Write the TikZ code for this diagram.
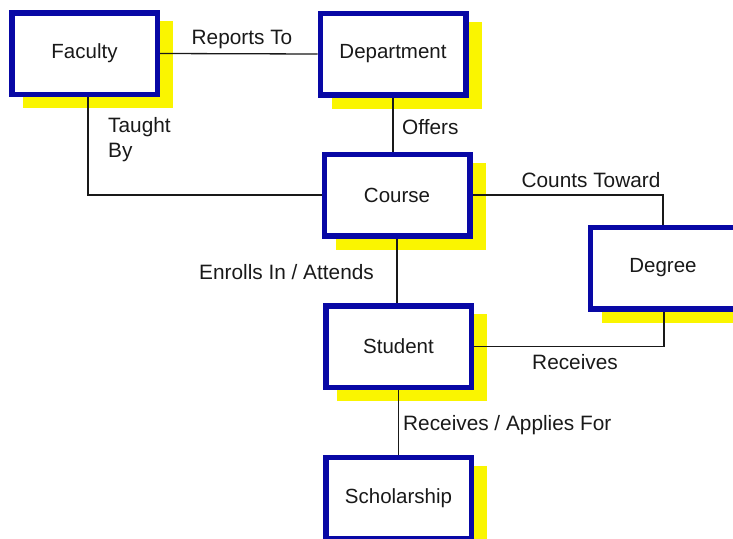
\documentclass[tikz,border=0pt]{standalone}
\usepackage{fontspec}
\setmainfont{Liberation Sans}
\usetikzlibrary{backgrounds}
\definecolor{boxblue}{RGB}{8,8,165}
\definecolor{shadowyellow}{RGB}{250,245,0}
\definecolor{inkgray}{RGB}{25,25,25}
\tikzset{
  entity/.style={draw=boxblue, line width=5.5pt, fill=white, rectangle,
    minimum width=145.5pt, minimum height=81.5pt, inner sep=0pt,
    font=\fontsize{20.5}{24}\selectfont, text=inkgray},
  link/.style={draw=inkgray, line width=1.3pt},
  lbl/.style={font=\fontsize{20.8}{24}\selectfont, text=inkgray, inner sep=0pt},
  shade/.style={fill=shadowyellow}
}
\begin{document}
\begin{tikzpicture}[x=1pt,y=-1pt]
\useasboundingbox (0,0) rectangle (733,538);
\clip (0,0) rectangle (733,538);
\node[entity] (fac) at (84.5,53.5) {Faculty};
\node[entity] (dep) at (393,54) {Department};
\node[entity] (crs) at (397,195) {Course};
\node[entity] (deg) at (663,268) {Degree};
\node[entity] (stu) at (398.5,346.5) {Student};
\node[entity] (sch) at (398.5,498) {Scholarship};
\begin{pgfonlayer}{background}
  \foreach \n in {fac,dep,crs,deg,stu,sch}
    \fill[shade] ([shift={(14,11)}]\n.north west) rectangle ([shift={(13,11)}]\n.south east);
\end{pgfonlayer}
\coordinate (facdrop) at ([xshift=3.5pt]fac.south);
\coordinate (facturn) at (facdrop |- crs.west);
\coordinate (ctturn) at (deg.north |- crs.east);
\coordinate (rcturn) at ([xshift=1pt]deg.south |- stu.east);
\begin{pgfonlayer}{background}
\draw[link] (fac.east) -- (dep.west);
\draw[link] (facdrop) -- (facturn) -- (crs.west);
\draw[link] (dep.south) -- (dep.south |- crs.north);
\draw[link] (crs.south) -- (crs.south |- stu.north);
\draw[link] (stu.south) -- (stu.south |- sch.north);
\draw[link] (crs.east) -- (ctturn) -- (deg.north);
\draw[link] (stu.east) -- (rcturn) -- ([xshift=1pt]deg.south);
\end{pgfonlayer}
\node[lbl] (lrep) at (242,40) {Reports To};
\node[lbl, anchor=west] (loff) at (402,127) {Offers};
\node[lbl, anchor=west] (ltau) at (108,127) {Taught};
\node[lbl, anchor=west] (lby) at (108,153) {By};
\node[lbl] (lct) at (591,180) {Counts Toward};
\node[lbl, anchor=east] (lenr) at (374,272) {Enrolls In / Attends};
\node[lbl] (lrec) at (575,362) {Receives};
\node[lbl, anchor=west] (lapp) at (403,425) {Receives / Applies For};
\end{tikzpicture}
\end{document}
